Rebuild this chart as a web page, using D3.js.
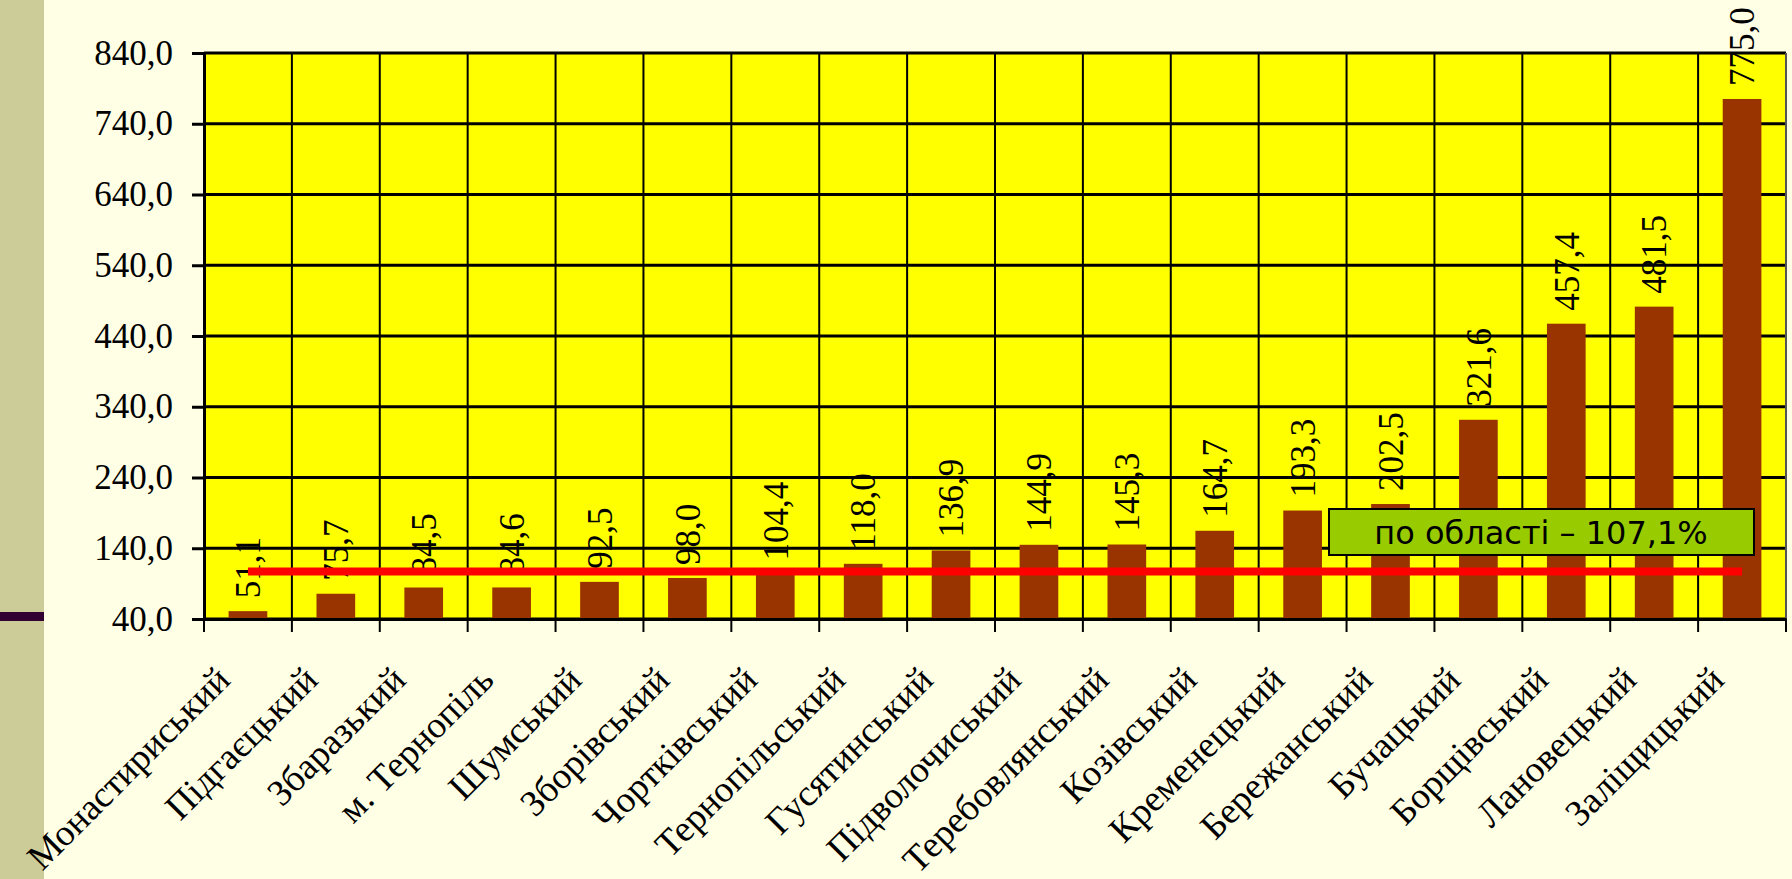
<!DOCTYPE html>
<html><head><meta charset="utf-8">
<script src="https://cdn.jsdelivr.net/npm/d3@7"></script>
<style>
html,body{margin:0;padding:0;background:#FFFFE5;overflow:hidden;}
svg{display:block;}
</style></head>
<body>
<svg id="chart" width="1792" height="879"></svg>
<script>
const categories = ["Монастириський","Підгаєцький","Збаразький","м. Тернопіль","Шумський","Зборівський","Чортківський","Тернопільський","Гусятинський","Підволочиський","Теребовлянський","Козівський","Кременецький","Бережанський","Бучацький","Борщівський","Лановецький","Заліщицький"];
const values = [51.1,75.7,84.5,84.6,92.5,98.0,104.4,118.0,136.9,144.9,145.3,164.7,193.3,202.5,321.6,457.4,481.5,775.0];
const yTicks = [40,140,240,340,440,540,640,740,840];
const regionAverage = 107.1;
const averageLabel = "по області – 107,1%";

(function(){
const svg = d3.select("#chart");
const W = 1792, H = 879;
const pL = 204, pR = 1786, pT = 53, pB = 619;
const serif = "'Liberation Serif','Times New Roman',serif";
const fmt = v => d3.format(".1f")(v).replace(".", ",");

// side decoration
svg.append("rect").attr("x",0).attr("y",0).attr("width",44).attr("height",H).attr("fill","#CCCC99");
svg.append("rect").attr("x",0).attr("y",612).attr("width",44).attr("height",9).attr("fill","#330033");

const x = d3.scaleBand().domain(categories).range([pL, pR]).paddingInner(0).paddingOuter(0);
const y = d3.scaleLinear().domain([40, 840]).range([pB, pT]);

// plot background
svg.append("rect").attr("x",pL).attr("y",pT).attr("width",pR-pL).attr("height",pB-pT).attr("fill","#FFFF00");

// horizontal gridlines
svg.append("g").selectAll("line").data(yTicks).join("line")
  .attr("x1",pL).attr("x2",pR).attr("y1",d=>y(d)).attr("y2",d=>y(d))
  .attr("stroke","#000").attr("stroke-width",3);
// vertical gridlines
const bounds = categories.map(c=>x(c)).concat([pR]);
svg.append("g").selectAll("line").data(bounds.slice(1)).join("line")
  .attr("x1",d=>d).attr("x2",d=>d).attr("y1",pT).attr("y2",pB)
  .attr("stroke",(d,i)=> i===bounds.length-2 ? "#555" : "#000").attr("stroke-width",2);

// bars
const bw = x.bandwidth()*0.44;
svg.append("g").selectAll("rect").data(values).join("rect")
  .attr("x",(d,i)=>x(categories[i])+x.bandwidth()/2-bw/2)
  .attr("y",d=>y(d)).attr("width",bw).attr("height",d=>pB-y(d))
  .attr("fill","#993300");

// y axis
const yAxis = svg.append("g").attr("transform",`translate(${pL},0)`)
  .call(d3.axisLeft(y).tickValues(yTicks).tickFormat(fmt).tickSize(12).tickPadding(19));
yAxis.attr("font-family",null);
yAxis.select(".domain").attr("stroke","#000").attr("stroke-width",3);
yAxis.selectAll(".tick line").attr("stroke","#000").attr("stroke-width",3);
yAxis.selectAll(".tick text").style("font-family",serif).style("font-size","35px").attr("fill","#000");

// x axis
const xAxis = svg.append("g").attr("transform",`translate(0,${pB})`)
  .call(d3.axisBottom(x).tickSize(0).tickFormat(""));
xAxis.select(".domain").attr("stroke","#000").attr("stroke-width",3);
svg.append("g").selectAll("line").data(bounds).join("line")
  .attr("x1",d=>d).attr("x2",d=>d).attr("y1",pB).attr("y2",pB+13)
  .attr("stroke","#000").attr("stroke-width",2);

// category labels
svg.append("g").selectAll("text").data(categories).join("text")
  .attr("transform",d=>`translate(${x(d)+x.bandwidth()/2-16},${pB+63}) rotate(-45)`)
  .attr("text-anchor","end").style("font-family",serif).style("font-size","37px").attr("fill","#000")
  .text(d=>d);

// value labels
svg.append("g").selectAll("text").data(values).join("text")
  .attr("transform",(d,i)=>`translate(${x(categories[i])+x.bandwidth()/2},${y(d)-13}) rotate(-90)`)
  .attr("dy","0.35em").attr("text-anchor","start")
  .style("font-family",serif).style("font-size","35px").attr("fill","#000")
  .text(fmt);

// average line
const xc0 = x(categories[0])+x.bandwidth()/2, xc1 = x(categories[categories.length-1])+x.bandwidth()/2;
svg.append("line").attr("x1",xc0).attr("x2",xc1).attr("y1",y(regionAverage)).attr("y2",y(regionAverage))
  .attr("stroke","#FF0000").attr("stroke-width",8);

// average label box
svg.append("rect").attr("x",1329).attr("y",509).attr("width",425).attr("height",46)
  .attr("fill","#99CC00").attr("stroke","#000").attr("stroke-width",2);
svg.append("text").attr("x",1541).attr("y",532).attr("dy","0.36em").attr("text-anchor","middle")
  .style("font-family","'DejaVu Sans',Verdana,sans-serif").style("font-size","32px").attr("fill","#000")
  .text(averageLabel);
})();
</script>
</body></html>
